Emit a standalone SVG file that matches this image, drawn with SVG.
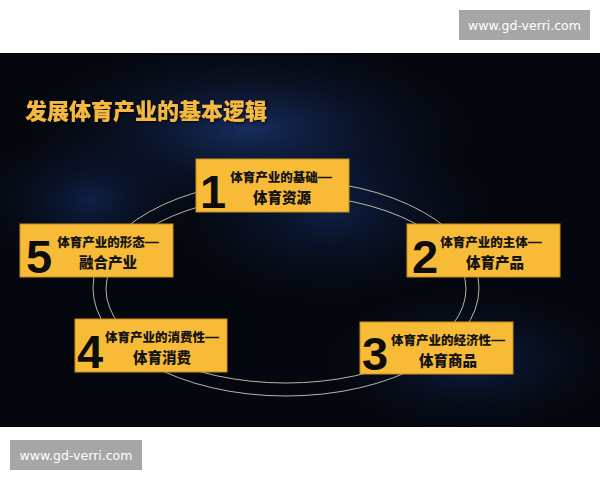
<svg xmlns="http://www.w3.org/2000/svg" width="600" height="480" viewBox="0 0 600 480">
  <defs>
    <style>
      .box { fill: #F8BB38; stroke: #C98E1C; stroke-width: 1; }
      .num { font-family: "Liberation Sans", "Noto Sans", sans-serif; font-weight: bold; font-size: 47px; fill: #0d0d0d; text-anchor: middle; }
      .t1 { font-family: "Noto Sans CJK SC", "Noto Sans", sans-serif; font-weight: 900; font-size: 12.5px; fill: #141414; text-anchor: middle; }
      .t2 { font-family: "Noto Sans CJK SC", "Noto Sans", sans-serif; font-weight: 900; font-size: 14.5px; fill: #141414; text-anchor: middle; }
      .dash { font-family: "Liberation Sans", "DejaVu Sans", sans-serif; font-size: 14px; font-weight: bold; }
      .ring { fill: none; stroke: #d9d2b8; stroke-width: 1; opacity: 0.85; }
      .wm { fill: #a6a6a6; }
      .wmt { font-family: "DejaVu Sans", "Liberation Sans", sans-serif; font-size: 12.5px; fill: #ffffff; text-anchor: middle; }
      .title { font-family: "Noto Sans CJK SC", "Noto Sans", sans-serif; font-weight: 900; font-size: 22px; fill: #F6B940; }
    </style>
    <clipPath id="bgclip">
      <rect x="0" y="53" width="600" height="374"/>
    </clipPath>
    <radialGradient id="glow1" cx="0.5" cy="0.5" r="0.5">
      <stop offset="0" stop-color="#1d3a78" stop-opacity="0.75"/>
      <stop offset="1" stop-color="#0b1630" stop-opacity="0"/>
    </radialGradient>
    <radialGradient id="glow2" cx="0.5" cy="0.5" r="0.5">
      <stop offset="0" stop-color="#15306a" stop-opacity="0.6"/>
      <stop offset="1" stop-color="#0b1630" stop-opacity="0"/>
    </radialGradient>
    <filter id="sh" x="-5%" y="-20%" width="110%" height="140%">
      <feDropShadow dx="1" dy="1" stdDeviation="0.8" flood-color="#000000" flood-opacity="0.8"/>
    </filter>
  </defs>

  <rect x="0" y="0" width="600" height="480" fill="#ffffff"/>
  <rect x="0" y="53" width="600" height="374" fill="#04070e"/>
  <g id="background" clip-path="url(#bgclip)">
    <ellipse cx="250" cy="130" rx="220" ry="90" fill="url(#glow1)"/>
    <ellipse cx="330" cy="210" rx="160" ry="90" fill="url(#glow2)"/>
    <ellipse cx="470" cy="360" rx="140" ry="70" fill="url(#glow2)"/>
    <ellipse cx="90" cy="200" rx="110" ry="70" fill="url(#glow2)"/>
  </g>

  <g id="watermarks">
    <rect class="wm" x="459" y="10" width="131" height="30"/>
    <text class="wmt" x="524.5" y="29.5">www.gd-verri.com</text>
    <rect class="wm" x="10" y="440" width="132" height="30"/>
    <text class="wmt" x="76" y="459.5">www.gd-verri.com</text>
  </g>

  <text id="title" class="title" x="25" y="119" filter="url(#sh)">发展体育产业的基本逻辑</text>

  <g id="connectors">
    <ellipse class="ring" cx="286" cy="288" rx="193" ry="108"/>
    <ellipse class="ring" cx="286" cy="289" rx="180" ry="94"/>
  </g>

  <g id="node1">
    <rect class="box" x="196" y="159" width="153" height="53"/>
    <text class="num" x="213" y="208">1</text>
    <text class="t1" x="281" y="182">体育产业的基础<tspan class="dash">—</tspan></text>
    <text class="t2" x="282" y="203">体育资源</text>
  </g>
  <g id="node2">
    <rect class="box" x="407" y="224" width="153" height="53"/>
    <text class="num" x="425" y="273">2</text>
    <text class="t1" x="491" y="247">体育产业的主体<tspan class="dash">—</tspan></text>
    <text class="t2" x="495" y="268">体育产品</text>
  </g>
  <g id="node3">
    <rect class="box" x="360" y="322" width="153" height="52"/>
    <text class="num" x="375" y="370">3</text>
    <text class="t1" x="448" y="345">体育产业的经济性<tspan class="dash">—</tspan></text>
    <text class="t2" x="448" y="366">体育商品</text>
  </g>
  <g id="node4">
    <rect class="box" x="75" y="319" width="152" height="53"/>
    <text class="num" x="90" y="368">4</text>
    <text class="t1" x="162" y="342">体育产业的消费性<tspan class="dash">—</tspan></text>
    <text class="t2" x="162" y="363">体育消费</text>
  </g>
  <g id="node5">
    <rect class="box" x="20" y="224" width="153" height="53"/>
    <text class="num" x="39" y="273">5</text>
    <text class="t1" x="108" y="247">体育产业的形态<tspan class="dash">—</tspan></text>
    <text class="t2" x="108" y="268">融合产业</text>
  </g>
</svg>
